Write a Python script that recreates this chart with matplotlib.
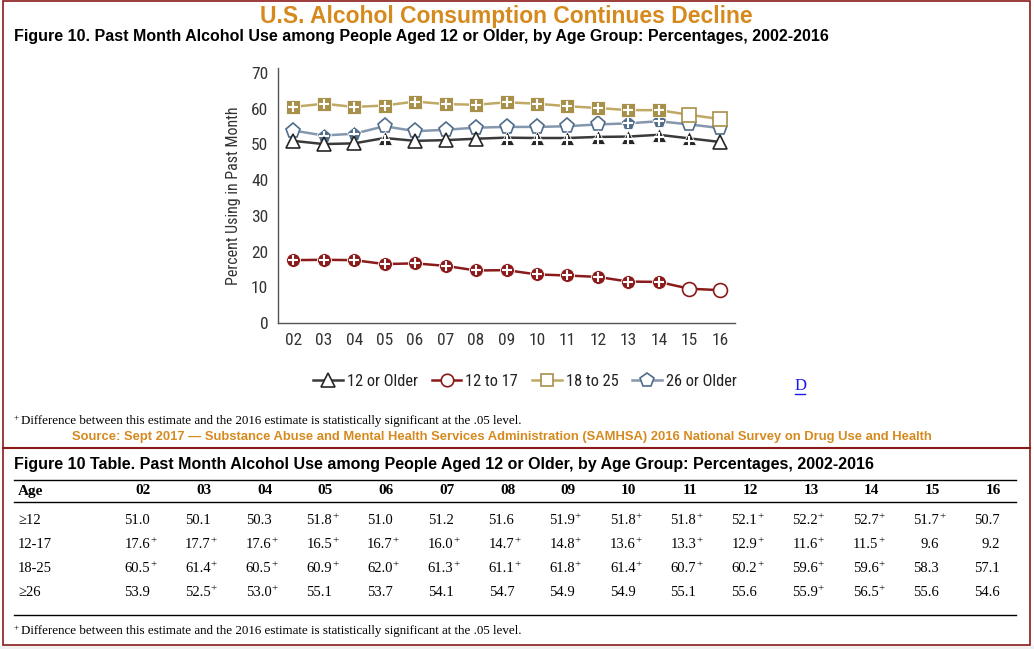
import matplotlib
matplotlib.use("Agg")
import matplotlib.pyplot as plt
from matplotlib import font_manager
from matplotlib.lines import Line2D
from matplotlib.patches import Rectangle

# data
years = ["02", "03", "04", "05", "06", "07", "08", "09", "10", "11", "12", "13", "14", "15", "16"]
age_12_older = [51.0, 50.1, 50.3, 51.8, 51.0, 51.2, 51.6, 51.9, 51.8, 51.8, 52.1, 52.2, 52.7, 51.7, 50.7]
age_12_17 = [17.6, 17.7, 17.6, 16.5, 16.7, 16.0, 14.7, 14.8, 13.6, 13.3, 12.9, 11.6, 11.5, 9.6, 9.2]
age_18_25 = [60.5, 61.4, 60.5, 60.9, 62.0, 61.3, 61.1, 61.8, 61.4, 60.7, 60.2, 59.6, 59.6, 58.3, 57.1]
age_26_older = [53.9, 52.5, 53.0, 55.1, 53.7, 54.1, 54.7, 54.9, 54.9, 55.1, 55.6, 55.9, 56.5, 55.6, 54.6]
# 1 = significantly different from 2016 (marked with + in table, filled marker in chart)
sig_12_older = [0, 0, 0, 1, 0, 0, 0, 1, 1, 1, 1, 1, 1, 1, 0]
sig_12_17 = [1, 1, 1, 1, 1, 1, 1, 1, 1, 1, 1, 1, 1, 0, 0]
sig_18_25 = [1, 1, 1, 1, 1, 1, 1, 1, 1, 1, 1, 1, 1, 0, 0]
sig_26_older = [0, 1, 1, 0, 0, 0, 0, 0, 0, 0, 0, 1, 1, 0, 0]
legend_labels = ["12 or Older", "12 to 17", "18 to 25", "26 or Older"]
table_rows = ["\u226512", "12-17", "18-25", "\u226526"]

# fonts
names = {f.name for f in font_manager.fontManager.ttflist}
narrow = "Liberation Sans"
for cand in ["Liberation Sans Narrow", "Roboto Condensed", "Open Sans Condensed"]:
    if cand in names:
        narrow = cand
        break
sans = "Liberation Sans"
serif = "Liberation Serif"

W, H = 1034, 649
fig = plt.figure(figsize=(W / 100, H / 100), dpi=100)


def fx(x):
    return x / W


def fy(y):
    return 1 - y / H


border = "#8b1a1a"
orange = "#d68a1e"

# frames
fig.add_artist(Rectangle((0, 0), 1, fy(646), transform=fig.transFigure, color="#f0f0f0", zorder=0))
fig.add_artist(Rectangle((fx(3), fy(645)), fx(1027), fy(1) - fy(645), transform=fig.transFigure,
                         fill=False, edgecolor=border, lw=1.2, zorder=1))
fig.add_artist(Line2D([fx(3), fx(1030)], [fy(448), fy(448)], transform=fig.transFigure, color=border, lw=1.5))

# titles
fig.text(fx(506), fy(16), "U.S. Alcohol Consumption Continues Decline", ha="center", va="center",
         fontsize=16.5, fontweight="bold", color=orange, family=sans)
fig.text(fx(14), fy(36), "Figure 10. Past Month Alcohol Use among People Aged 12 or Older, by Age Group: Percentages, 2002-2016",
         ha="left", va="center", fontsize=11.5, fontweight="bold", color="black", family=sans)

# chart
ax = fig.add_axes([fx(278), fy(323), fx(735) - fx(278), fy(68) - fy(323)])
x = list(range(len(years)))

series = [
    (age_26_older, sig_26_older, "p", "#4f6c8a", "#8497ad", 11, 2),
    (age_12_older, sig_12_older, "^", "#262626", "#3a3a3a", 10.5, 3),
    (age_18_25, sig_18_25, "s", "#a8904a", "#c0a865", 9.5, 4),
    (age_12_17, sig_12_17, "o", "#8b1a1a", "#8b1a1a", 10, 5),
]
for vals, sig, mk, col, lcol, ms, z in series:
    ax.plot(x, vals, color=lcol, lw=1.8, zorder=z)
    for xi, v, s in zip(x, vals, sig):
        if s:
            ax.plot(xi, v, marker=mk, ms=ms, mfc=col, mec="white", mew=0.6, zorder=z + 0.1)
            ax.plot(xi, v - (0.6 if mk == "^" else 0), marker="+", ms=6.5, mec="white", mew=1.5, zorder=z + 0.2)
        else:
            ax.plot(xi, v, marker=mk, ms=ms, mfc="white", mec=col, mew=1.2, zorder=z + 0.1)

ax.set_xlim(-0.5, 14.5)
ax.set_ylim(0, 71.4)
ax.set_yticks(range(0, 71, 10))
ax.set_xticks(x)
ax.set_xticklabels(years)
for sp in ["top", "right"]:
    ax.spines[sp].set_visible(False)
for sp in ["left", "bottom"]:
    ax.spines[sp].set_color("#555555")
    ax.spines[sp].set_linewidth(1)
ax.tick_params(length=0, pad=7, labelsize=12.5, labelcolor="#333333")
for lab in ax.get_xticklabels() + ax.get_yticklabels():
    lab.set_family(narrow)
ax.set_ylabel("Percent Using in Past Month", fontsize=11.5, family=narrow, color="#333333", labelpad=7)

# legend
handles = []
for (vals, sig, mk, col, lcol, ms, z), lab in zip([series[1], series[3], series[2], series[0]], legend_labels):
    handles.append(Line2D([], [], color=lcol, lw=1.8, marker=mk, ms=ms - 1, mfc="white", mec=col, mew=1.2, label=lab))
fig.legend(handles=handles, loc="center", bbox_to_anchor=(fx(525), fy(381)), ncol=4, frameon=False,
           handlelength=1.8, handletextpad=0.25, columnspacing=0.85,
           prop={"family": narrow, "size": 11.8}, labelcolor="#222222")

fig.text(fx(795), fy(386), "D", ha="left", va="center", fontsize=12, color="#1a1aee", family=serif)
fig.add_artist(Line2D([fx(795), fx(805)], [fy(394), fy(394)], transform=fig.transFigure, color="#1a1aee", lw=1))

note = "Difference between this estimate and the 2016 estimate is statistically significant at the .05 level."
fig.text(fx(14), fy(418), "+", ha="left", va="center", fontsize=6.5, family=serif)
fig.text(fx(21), fy(421), note, ha="left", va="center", fontsize=9.4, family=serif)
fig.text(fx(502), fy(437), "Source: Sept 2017 \u2014 Substance Abuse and Mental Health Services Administration (SAMHSA) 2016 National Survey on Drug Use and Health",
         ha="center", va="center", fontsize=9.4, fontweight="bold", color=orange, family=sans)

# table
fig.text(fx(14), fy(465), "Figure 10 Table. Past Month Alcohol Use among People Aged 12 or Older, by Age Group: Percentages, 2002-2016",
         ha="left", va="center", fontsize=11.55, fontweight="bold", color="black", family=sans)
for yl in [480, 502, 615]:
    fig.add_artist(Line2D([fx(14), fx(1016)], [fy(yl), fy(yl)], transform=fig.transFigure, color="black", lw=1))

col_right = [150 + 60.7 * i for i in range(len(years))]
fig.text(fx(18), fy(491), "Age", ha="left", va="center", fontsize=11, fontweight="bold", family=serif)
for cx, yr in zip(col_right, years):
    fig.text(fx(cx + 1), fy(491), yr, ha="right", va="center", fontsize=11, fontweight="bold", family=serif)

row_y = [521, 545, 569, 593]
for ry, lab, vals, sig in zip(row_y, table_rows, [age_12_older, age_12_17, age_18_25, age_26_older],
                              [sig_12_older, sig_12_17, sig_18_25, sig_26_older]):
    fig.text(fx(18), fy(ry), lab, ha="left", va="center", fontsize=10.5, family=serif)
    for cx, v, s in zip(col_right, vals, sig):
        fig.text(fx(cx), fy(ry), f"{v:.1f}", ha="right", va="center", fontsize=10.5, family=serif)
        if s:
            fig.text(fx(cx), fy(ry - 4), "+", ha="left", va="center", fontsize=8, family=serif)

fig.text(fx(14), fy(628), "+", ha="left", va="center", fontsize=6.5, family=serif)
fig.text(fx(21), fy(631), note, ha="left", va="center", fontsize=9.4, family=serif)

fig.savefig("out.png", dpi=100)
